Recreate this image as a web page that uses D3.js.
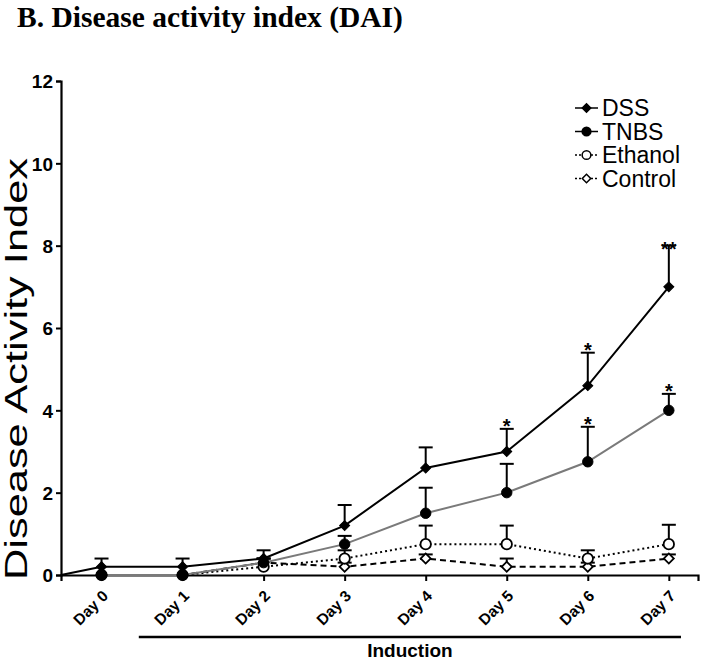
<!DOCTYPE html>
<html><head><meta charset="utf-8">
<script src="https://cdn.jsdelivr.net/npm/d3@7"></script>
<style>body{margin:0;background:#fff}</style>
</head><body>
<svg id="c" width="713" height="660"></svg>
<script>
const days = ["Day 0","Day 1","Day 2","Day 3","Day 4","Day 5","Day 6","Day 7"];
const yTicks = [0,2,4,6,8,10,12];
const dssValues = [0.2,0.2,0.4,1.2,2.6,3.0,4.6,7.0];
const dssErrors = [0.2,0.2,0.2,0.5,0.5,0.55,0.8,1.0];
const dssStars  = ["","","","","","*","*","**"];
const tnbsValues = [0,0,0.3,0.75,1.5,2.0,2.75,4.0];
const tnbsErrors = [0,0,0.1,0.2,0.62,0.7,0.85,0.4];
const tnbsStars  = ["","","","","","","*","*"];
const ethanolValues = [0,0,0.2,0.4,0.75,0.75,0.4,0.75];
const ethanolErrors = [0,0,0.2,0.2,0.45,0.45,0.2,0.47];
const controlValues = [0,0,0.3,0.2,0.4,0.2,0.2,0.4];
const controlErrors = [0,0,0.1,0.1,0.1,0.2,0.1,0.1];
const seriesNames = ["DSS","TNBS","Ethanol","Control"];

const svg = d3.select("#c");
const x = d3.scaleLinear().domain([-0.5, 7.36]).range([61, 698]);
const y = d3.scaleLinear().domain([0, 12]).range([575, 81]);

svg.append("text").attr("x",17).attr("y",26.5)
  .style("font-family","'Liberation Serif','Times New Roman',serif")
  .style("font-weight","bold").style("font-size","29.5px").text("B. Disease activity index (DAI)");

// y axis
const ya = svg.append("g").attr("transform","translate(61,0)")
  .call(d3.axisLeft(y).tickValues(yTicks).tickSize(5).tickPadding(3).tickFormat(d3.format("d")));
ya.select(".domain").attr("stroke","#000").attr("stroke-width",2.2);
ya.selectAll(".tick line").attr("stroke","#000").attr("stroke-width",2);
ya.selectAll(".tick text").style("font-family","Arial,'Liberation Sans',sans-serif")
  .style("font-weight","bold").style("font-size","19px").attr("fill","#000").attr("dy","0.36em");

// x axis
const xa = svg.append("g").attr("transform","translate(0,575)")
  .call(d3.axisBottom(x).tickValues(d3.range(days.length)).tickSize(6).tickFormat(i => days[i]));
xa.select(".domain").attr("stroke","#000").attr("stroke-width",2.2);
xa.selectAll(".tick line").attr("stroke","#000").attr("stroke-width",2);
xa.selectAll(".tick text").style("font-family","Arial,'Liberation Sans',sans-serif")
  .style("font-weight","bold").style("font-size","15.5px").attr("fill","#000")
  .attr("text-anchor","end").attr("dy",null).attr("y",0)
  .attr("transform","translate(7,22) rotate(-45)");

// y label
svg.append("text").attr("transform","translate(27,369) rotate(-90)")
  .attr("text-anchor","middle").attr("textLength",422).attr("lengthAdjust","spacingAndGlyphs")
  .style("font-family","Arial,'Liberation Sans',sans-serif").style("font-size","31px")
  .text("Disease Activity Index");

// induction
svg.append("line").attr("x1",x(0.46)).attr("x2",x(7.15)).attr("y1",637).attr("y2",637)
  .attr("stroke","#000").attr("stroke-width",2.5);
svg.append("text").attr("x",(x(0.46)+x(7.15))/2).attr("y",657).attr("text-anchor","middle")
  .style("font-family","Arial,'Liberation Sans',sans-serif").style("font-weight","bold").style("font-size","19px")
  .text("Induction");

const series = [
  {name:"DSS", v:dssValues, e:dssErrors, stars:dssStars, color:"#000", dash:null, shape:"diamond", fill:"#000", lead:true},
  {name:"TNBS", v:tnbsValues, e:tnbsErrors, stars:tnbsStars, color:"#7a7a7a", dash:null, shape:"circle", fill:"#000"},
  {name:"Ethanol", v:ethanolValues, e:ethanolErrors, stars:null, color:"#000", dash:"2,3", shape:"circle", fill:"#fff"},
  {name:"Control", v:controlValues, e:controlErrors, stars:null, color:"#000", dash:"6,4", shape:"diamond", fill:"#fff"}
];
const sym = (s, big) => s==="diamond" ? d3.symbol(d3.symbolSquare, big?50:36)() : d3.symbol(d3.symbolCircle, big?85:60)();
const rot = s => s==="diamond" ? " rotate(45)" : "";
const line = d3.line().x(d=>x(d[0])).y(d=>y(d[1]));

// error bars
series.slice().reverse().forEach(s => {
  const g = svg.append("g");
  s.v.forEach((v,i) => {
    if (!s.e[i]) return;
    g.append("line").attr("x1",x(i)).attr("x2",x(i)).attr("y1",y(v)).attr("y2",y(v+s.e[i]))
      .attr("stroke","#000").attr("stroke-width",2);
    g.append("line").attr("x1",x(i)-7).attr("x2",x(i)+7).attr("y1",y(v+s.e[i])).attr("y2",y(v+s.e[i]))
      .attr("stroke","#000").attr("stroke-width",2);
  });
});
// lines
series.slice().reverse().forEach(s => {
  const pts = s.v.map((v,i)=>[i,v]);
  if (s.lead) pts.unshift([-0.5,0]);
  svg.append("path").attr("d",line(pts)).attr("fill","none").attr("stroke",s.color)
    .attr("stroke-width",2).attr("stroke-dasharray",s.dash);
});
// markers
series.slice().reverse().forEach(s => {
  s.v.forEach((v,i) => {
    svg.append("path").attr("d",sym(s.shape,true)).attr("transform",`translate(${x(i)},${y(v)})${rot(s.shape)}`)
      .attr("fill",s.fill).attr("stroke","#000").attr("stroke-width",s.fill==="#fff"?1.8:1);
  });
  if (s.stars) s.stars.forEach((st,i) => {
    if (!st) return;
    svg.append("text").attr("x",x(i)).attr("y",y(s.v[i]+s.e[i])+ (st==="**"?10:4)).attr("text-anchor","middle")
      .style("font-family","Arial,'Liberation Sans',sans-serif").style("font-weight","bold").style("font-size","20px")
      .text(st);
  });
});

// legend
const lg = svg.append("g");
series.forEach((s,k) => {
  const yy = 108 + k*23.5;
  lg.append("line").attr("x1",575).attr("x2",598).attr("y1",yy).attr("y2",yy)
    .attr("stroke",s.name==="TNBS"?"#000":s.color).attr("stroke-width",1.5).attr("stroke-dasharray",s.dash?"2,2":null);
  lg.append("path").attr("d", sym(s.shape,false))
    .attr("transform",`translate(586.5,${yy})${rot(s.shape)}`).attr("fill",s.fill).attr("stroke","#000").attr("stroke-width",1.5);
  lg.append("text").attr("x",602).attr("y",yy+8).style("font-family","Arial,'Liberation Sans',sans-serif")
    .style("font-size","23px").text(s.name);
});
</script>
</body></html>
